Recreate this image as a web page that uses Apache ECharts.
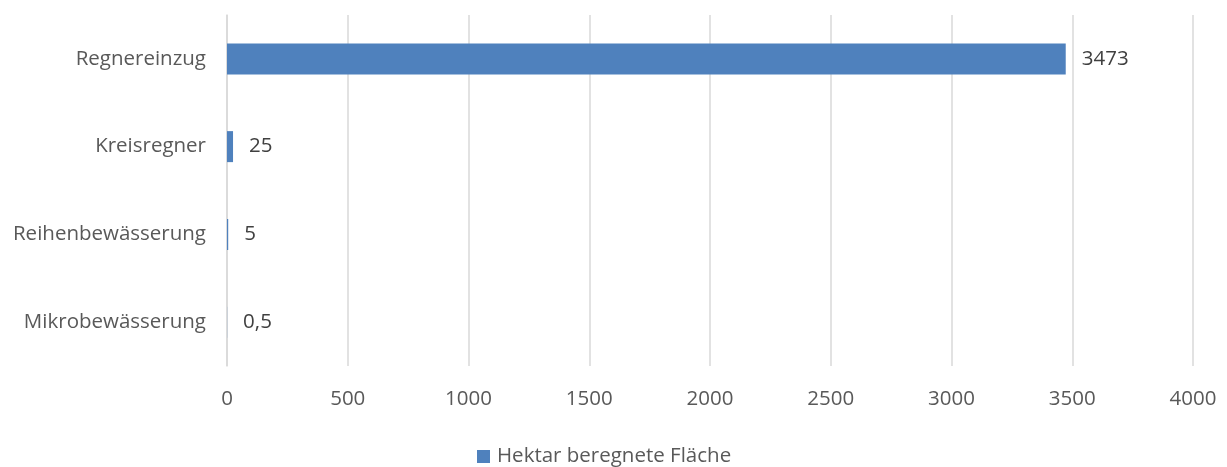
<!DOCTYPE html>
<html>
<head>
<meta charset="utf-8">
<script src="https://cdn.jsdelivr.net/npm/echarts@6/dist/echarts.min.js"></script>
<style>
  html, body { margin: 0; padding: 0; background: #fff; }
  #chart { width: 1227px; height: 467px; }
</style>
</head>
<body>
<div id="chart"></div>
<script>
'use strict';
const categories = ['Regnereinzug', 'Kreisregner', 'Reihenbewässerung', 'Mikrobewässerung'];
const values = [3473, 25, 5, 0.5];
const seriesName = 'Hektar beregnete Fläche';

const FONT = '"Open Sans", "Noto Sans", sans-serif';
const FS = 20.5;

function init() {
    const chart = echarts.init(document.getElementById('chart'));
    const option = {
        animation: false,
        textStyle: { fontFamily: FONT },
        grid: {
            left: 227,
            right: 34,
            top: 15,
            bottom: 101,
        },
        legend: {
            bottom: -5,
            left: 472,
            itemWidth: 13,
            itemHeight: 13,
            itemGap: 8,
            icon: 'rect',
            textStyle: { color: '#595959', fontSize: FS, fontFamily: FONT, padding: [0, 0, 0, 2] },
            data: [seriesName],
        },
        xAxis: {
            type: 'value',
            min: 0,
            max: 4000,
            interval: 500,
            axisLine: { show: false },
            axisTick: { show: false },
            axisLabel: {
                color: '#595959',
                fontSize: FS,
                margin: 23,
                fontFamily: FONT,
                formatter: (v) => String(v),
            },
            splitLine: { lineStyle: { color: '#d9d9d9', width: 1.5 } },
        },
        yAxis: {
            type: 'category',
            inverse: true,
            data: categories,
            axisLine: { show: true, lineStyle: { color: '#d9d9d9', width: 1.5 } },
            axisTick: { show: false },
            axisLabel: {
                color: '#595959',
                fontSize: FS,
                margin: 21,
                fontFamily: FONT,
            },
        },
        series: [
            {
                name: seriesName,
                type: 'bar',
                data: values,
                barWidth: 31,
                itemStyle: { color: '#4f81bd' },
                label: {
                    show: true,
                    position: 'right',
                    distance: 16,
                    color: '#404040',
                    fontSize: FS,
                    fontFamily: FONT,
                    formatter: (p) => String(p.value).replace('.', ','),
                },
            },
        ],
    };
    chart.setOption(option);
    window.addEventListener('resize', () => chart.resize());
}

init();
</script>
</body>
</html>
